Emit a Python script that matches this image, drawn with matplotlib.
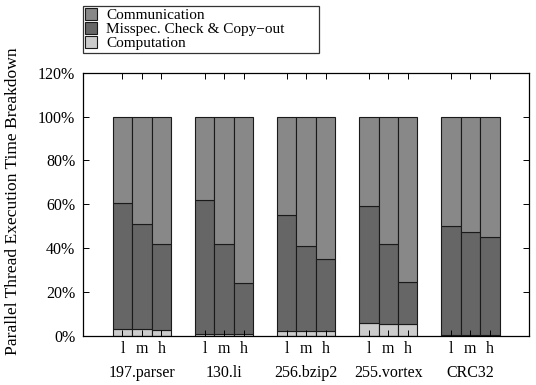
import matplotlib
matplotlib.use("Agg")
import matplotlib.pyplot as plt
import numpy as np

plt.rcParams['font.family'] = ['Liberation Serif', 'DejaVu Serif']

benchmarks = ["197.parser", "130.li", "256.bzip2", "255.vortex", "CRC32"]
levels = ["l", "m", "h"]
# percentages, per benchmark: [l, m, h]
computation = [[2.9, 2.9, 2.7], [1.0, 1.0, 1.0], [2.0, 2.2, 2.0], [5.8, 5.5, 5.5], [0.5, 0.5, 0.5]]
misspec = [[57.5, 48.1, 39.1], [60.9, 40.8, 22.9], [52.9, 38.7, 33.0], [53.4, 36.3, 18.8], [49.4, 46.7, 44.4]]
communication = [[39.6, 49.0, 58.2], [38.1, 58.2, 76.1], [45.1, 59.1, 65.0], [40.8, 58.2, 75.7], [50.1, 52.8, 55.1]]
yticks = [0, 20, 40, 60, 80, 100, 120]

c_comm = "#888888"
c_mis = "#666666"
c_comp = "#cccccc"
edge = "#1a1a1a"

fig = plt.figure(figsize=(5.36, 3.85), dpi=100)
ax = fig.add_axes([83/536, 1-335.7/385, (529.3-83)/536, (335.7-72.7)/385])

w = 0.237
offsets = [-w, 0, w]
xs, xl = [], []
for gi in range(len(benchmarks)):
    for li in range(3):
        x = gi + offsets[li]
        xs.append(x)
        xl.append(levels[li])
        cp = computation[gi][li]
        ms = misspec[gi][li]
        cm = communication[gi][li]
        ax.bar(x, cp, width=w, color=c_comp, edgecolor=edge, linewidth=0.8,
               label="Computation" if (gi == 0 and li == 0) else None)
        ax.bar(x, ms, width=w, bottom=cp, color=c_mis, edgecolor=edge, linewidth=0.8,
               label="Misspec. Check & Copy\u2212out" if (gi == 0 and li == 0) else None)
        ax.bar(x, cm, width=w, bottom=cp+ms, color=c_comm, edgecolor=edge, linewidth=0.8,
               label="Communication" if (gi == 0 and li == 0) else None)

ax.set_xlim(-0.718, 4.718)
ax.set_ylim(0, 120)
ax.set_yticks(yticks)
ax.set_yticklabels([f"{v}%" for v in yticks])
ax.set_xticks(xs)
ax.set_xticklabels(xl)
ax.tick_params(axis='both', direction='in', length=4.3, width=0.7, labelsize=11.5,
               top=True, right=True)
ax.tick_params(axis='y', pad=5.5)
ax.tick_params(axis='x', pad=4)
for s in ax.spines.values():
    s.set_linewidth(0.9)

for gi, b in enumerate(benchmarks):
    ax.text(gi, -0.142, b, transform=ax.get_xaxis_transform(), ha='center', va='center', fontsize=11.5)

ax.set_ylabel("Parallel Thread Execution Time Breakdown", fontsize=12.6)
ax.yaxis.set_label_coords((21-83)/446, (335.7-201)/263)

handles, labels = ax.get_legend_handles_labels()
order = [2, 1, 0]
leg = fig.legend([handles[i] for i in order], [labels[i] for i in order],
                 loc='upper left',
                 bbox_to_anchor=(82.7/536, 1-52.7/385, (319.3-82.7)/536, 47/385),
                 mode='expand',
                 fontsize=11, frameon=True, fancybox=False, edgecolor='black',
                 handlelength=0.8, handleheight=0.8, handletextpad=0.6,
                 labelspacing=0.0, borderpad=0.15, borderaxespad=0)
leg.get_frame().set_linewidth(0.9)

fig.savefig("out.png", dpi=100)
